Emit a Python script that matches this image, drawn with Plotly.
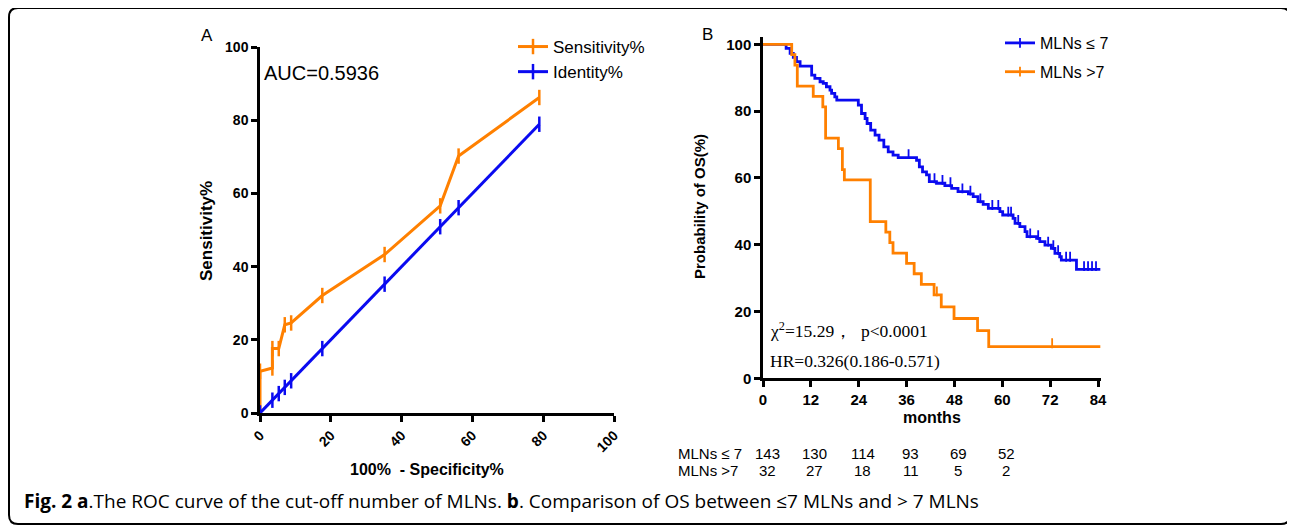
import numpy as np
import plotly.graph_objects as go

# The page body adds an 8px margin; the figure is sized and placed so that
# reference pixel (X, Y) lands at viewport pixel (X, Y).
OFF = 8
W, H = 1295 - OFF, 525 - OFF

# ---------------- Panel A data (ROC) ----------------
roc_fpr = [0, 0, 3.5, 3.5, 5.3, 7.0, 8.8, 17.6, 35.2, 50.9, 56.1, 78.9]
roc_sens = [0, 11.4, 12.3, 17.6, 17.6, 24.1, 24.6, 32.1, 43.3, 56.6, 70.2, 86.2]
ident_vals = [0, 3.5, 5.3, 7.0, 8.8, 17.6, 35.2, 50.9, 56.1, 78.9]
auc_text = "AUC=0.5936"

# ---------------- Panel B data (Kaplan-Meier) ----------------
low_t = [0, 5.8, 6.8, 7.6, 8.4, 9.3, 12.2, 13.0, 14.3, 15.1, 15.9, 16.8, 17.2, 18.0,
         18.5, 23.0, 23.9, 24.7, 25.6, 26.1, 27.0, 28.1, 29.1, 30.3, 31.4, 32.6, 33.9,
         37.7, 38.5, 39.2, 40.0, 41.0, 41.7, 43.5, 45.6, 47.3, 48.9, 51.5, 52.7, 53.9,
         55.2, 56.5, 59.4, 60.1, 62.7, 63.2, 64.4, 65.7, 66.2, 68.6, 69.4, 70.7, 72.3,
         73.2, 74.4, 74.8, 78.6, 84.6]
low_s = [100, 98.8, 97.3, 96.1, 94.8, 93.5, 90.8, 89.8, 88.8, 88.3, 87.3, 86.3, 85.3, 84.3,
         83.3, 83.3, 81.8, 79.3, 77.8, 76.3, 74.3, 72.8, 71.3, 69.3, 67.8, 66.8, 66.1,
         66.1, 65.3, 63.3, 61.8, 60.9, 58.9, 58.4, 57.7, 56.9, 55.9, 55.2, 54.4, 52.9,
         52.1, 50.9, 49.9, 48.9, 47.9, 46.4, 45.4, 43.9, 42.4, 41.9, 40.9, 39.9, 38.9,
         37.4, 36.4, 35.4, 32.6, 32.6]
low_censor = [36.5, 43.0, 45.0, 47.0, 50.0, 52.0, 54.5, 57.5, 59.0, 61.5, 62.2, 64.0,
              67.0, 69.0, 71.5, 72.8, 74.0, 76.0, 77.0, 80.5, 81.5, 82.5, 83.5]

high_t = [0, 7.2, 8.0, 8.6, 12.6, 15.0, 15.7, 18.9, 19.9, 20.4, 26.9, 30.8, 31.8, 32.6,
          36.0, 37.9, 39.7, 42.9, 44.7, 47.9, 53.8, 56.6, 84.6]
high_s = [100, 96.9, 93.8, 87.5, 84.4, 81.3, 71.9, 68.8, 62.5, 59.4, 46.9, 43.8, 40.6, 37.5,
          34.4, 31.3, 28.1, 25.0, 21.4, 17.9, 14.3, 9.5, 9.5]
high_censor = [43.6, 72.5]

risk_times = [0, 12, 24, 36, 48, 60]
risk_low = [143, 130, 114, 93, 69, 52]
risk_high = [32, 27, 18, 11, 5, 2]

chi_text = "χ<sup>2</sup>=15.29，  p&lt;0.0001"
hr_text = "HR=0.326(0.186-0.571)"
caption = ("<b>Fig. 2 a</b>.The ROC curve of the cut-off number of MLNs. <b>b</b>. "
           "Comparison of OS between ≤7 MLNs and &gt; 7 MLNs")

ORANGE = "#FF8000"
BLUE = "#0A0AF0"
SANS = "Arial, Liberation Sans, sans-serif"
SERIF = "Times New Roman, Liberation Serif, serif"


def px(x):
    return (x - OFF) / W


def py(y):
    return 1 - (y - OFF) / H


def surv_at(ts, ss, t):
    i = np.searchsorted(np.array(ts), t, side="right") - 1
    return ss[i]


fig = go.Figure()

# Panel A traces
fig.add_trace(go.Scatter(
    x=roc_fpr, y=roc_sens, mode="lines+markers", name="Sensitivity%",
    line=dict(color=ORANGE, width=3),
    marker=dict(symbol="line-ns", size=11, line=dict(color=ORANGE, width=2.5)),
    xaxis="x", yaxis="y", legend="legend"))
fig.add_trace(go.Scatter(
    x=ident_vals, y=ident_vals, mode="lines+markers", name="Identity%",
    line=dict(color=BLUE, width=3),
    marker=dict(symbol="line-ns", size=11, line=dict(color=BLUE, width=2.5)),
    xaxis="x", yaxis="y", legend="legend"))

# Panel B traces
for ts, ss, cens, col, name, grp in [
        (low_t, low_s, low_censor, BLUE, "MLNs ≤ 7", "g1"),
        (high_t, high_s, high_censor, ORANGE, "MLNs >7", "g2")]:
    fig.add_trace(go.Scatter(
        x=ts, y=ss, mode="lines", line=dict(color=col, width=2.8, shape="hv"),
        xaxis="x2", yaxis="y2", showlegend=False, legendgroup=grp, hoverinfo="skip"))
    fig.add_trace(go.Scatter(
        x=cens, y=[surv_at(ts, ss, c) + 1.0 for c in cens], mode="markers",
        marker=dict(symbol="line-ns", size=7, line=dict(color=col, width=1.8)),
        xaxis="x2", yaxis="y2", showlegend=False, legendgroup=grp))
    fig.add_trace(go.Scatter(
        x=[None], y=[None], mode="lines+markers", name=name,
        line=dict(color=col, width=2.8),
        marker=dict(symbol="line-ns", size=7, line=dict(color=col, width=1.8)),
        xaxis="x2", yaxis="y2", legend="legend2", legendgroup=grp))

axis_common = dict(showgrid=False, zeroline=False, showline=True, linecolor="black",
                   linewidth=2.5, ticks="outside", ticklen=6, tickwidth=2.5,
                   tickcolor="black", automargin=False)

fig.update_layout(
    template="none",
    width=W, height=H,
    margin=dict(l=0, r=0, t=0, b=0, pad=0),
    paper_bgcolor="white", plot_bgcolor="white",
    font=dict(family=SANS, color="black"),
    xaxis=dict(domain=[px(260), px(614)], range=[0, 100], dtick=20, tickangle=-45,
               tickfont=dict(size=14, weight="bold", family=SANS),
               anchor="y", **axis_common),
    yaxis=dict(domain=[py(413), py(47)], range=[0, 100], dtick=20,
               tickfont=dict(size=14, weight="bold", family=SANS),
               anchor="x", **axis_common),
    xaxis2=dict(domain=[px(763), px(1100.8)], range=[0, 84.7], tickvals=[0, 12, 24, 36, 48, 60, 72, 84],
                tickfont=dict(size=15, weight="bold", family=SANS),
                anchor="y2", **axis_common),
    yaxis2=dict(domain=[py(378.3), py(37)], range=[0, 102.2], tickvals=[0, 20, 40, 60, 80, 100],
                tickfont=dict(size=15, weight="bold", family=SANS),
                anchor="x2", **axis_common),
    legend=dict(x=px(513), y=py(29), xanchor="left", yanchor="top",
                font=dict(size=17, family=SANS), bgcolor="rgba(0,0,0,0)",
                itemwidth=30),
    legend2=dict(x=px(1000), y=py(26), xanchor="left", yanchor="top",
                 font=dict(size=16, family=SANS), bgcolor="rgba(0,0,0,0)",
                 traceorder="grouped", tracegroupgap=5, itemwidth=30),
    showlegend=True,
)

ann = []


def text(x, y, s, size, xanchor="left", yanchor="middle", angle=0, family=SANS, weight="normal"):
    ann.append(dict(x=px(x), y=py(y), xref="paper", yref="paper", text=s, showarrow=False,
                    xanchor=xanchor, yanchor=yanchor, textangle=angle,
                    font=dict(size=size, family=family, weight=weight, color="black")))


text(207, 36, "A", 17, xanchor="center")
text(707, 34, "B", 17, xanchor="center")
text(262, 73, auc_text, 20)
text(207, 231, "Sensitivity%", 17, xanchor="center", angle=-90, weight="bold")
text(427, 469, "100%  - Specificity%", 16, xanchor="center", weight="bold")
text(699, 207, "Probability of OS(%)", 15, xanchor="center", angle=-90, weight="bold")
text(932, 417, "months", 16, xanchor="center", weight="bold")
text(768, 330, chi_text, 17.5, family=SERIF)
text(768, 361, hr_text, 17.5, family=SERIF)
text(676, 453, "MLNs ≤ 7", 15)
text(676, 470, "MLNs >7", 15)
text(22, 501, caption, 19, family="Open Sans, sans-serif")

for t, a, b in zip(risk_times, risk_low, risk_high):
    for v, yy in [(a, 453), (b, 470)]:
        ann.append(dict(x=t, y=py(yy), xref="x2", yref="paper", text=str(v), showarrow=False,
                        xanchor="center", yanchor="middle", xshift=4,
                        font=dict(size=15, family=SANS, color="black")))

fig.update_layout(annotations=ann)

# rounded border frame
x0, x1, y0, y1, r = 9, 1290, 8, 524, 9
path = (f"M {px(x0 + r)},{py(y0)} L {px(x1 - r)},{py(y0)} Q {px(x1)},{py(y0)} {px(x1)},{py(y0 + r)} "
        f"L {px(x1)},{py(y1 - r)} Q {px(x1)},{py(y1)} {px(x1 - r)},{py(y1)} "
        f"L {px(x0 + r)},{py(y1)} Q {px(x0)},{py(y1)} {px(x0)},{py(y1 - r)} "
        f"L {px(x0)},{py(y0 + r)} Q {px(x0)},{py(y0)} {px(x0 + r)},{py(y0)} Z")
fig.add_shape(type="path", path=path, xref="paper", yref="paper",
              line=dict(color="black", width=2), fillcolor="rgba(0,0,0,0)")

fig.write_html("out.html")
